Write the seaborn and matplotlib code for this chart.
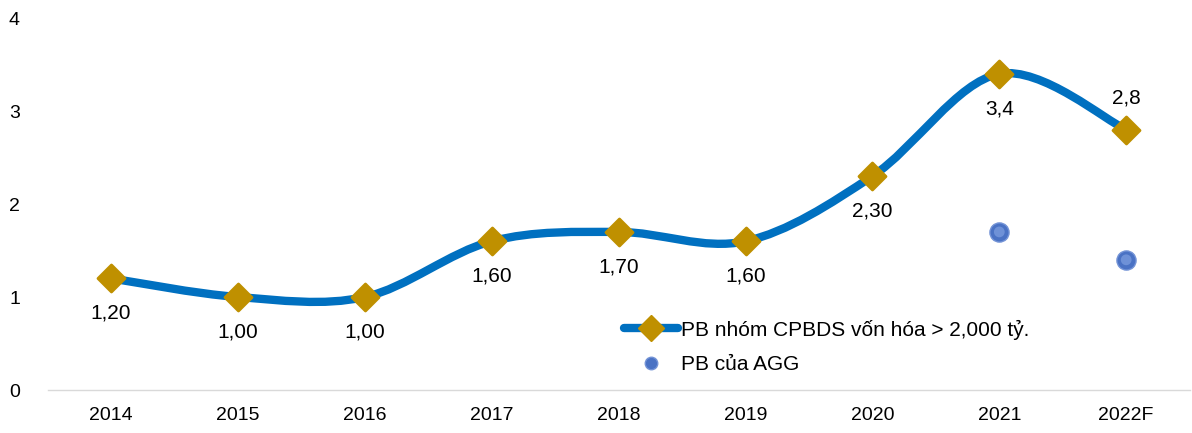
import numpy as np
import pandas as pd
import seaborn as sns
import matplotlib.pyplot as plt
from matplotlib.path import Path
from matplotlib.patches import PathPatch
from matplotlib.lines import Line2D

years = ["2014", "2015", "2016", "2017", "2018", "2019", "2020", "2021", "2022F"]
pb_group = [1.2, 1.0, 1.0, 1.6, 1.7, 1.6, 2.3, 3.4, 2.8]
pb_labels = ["1,20", "1,00", "1,00", "1,60", "1,70", "1,60", "2,30", "3,4", "2,8"]
agg_years = ["2021", "2022F"]
agg_pb = [1.7, 1.4]

sns.set_theme(style="white")
plt.rcParams["font.family"] = ["Liberation Sans", "DejaVu Sans"]

blue = "#0070C0"
gold = "#BF9000"

df = pd.DataFrame({"year": years, "x": np.arange(len(years)), "pb": pb_group})
df_agg = pd.DataFrame({"x": [years.index(y) for y in agg_years], "pb": agg_pb})

fig = plt.figure(figsize=(11.92, 4.33), dpi=100)
ax = fig.add_axes([0.040, 0.0993, 0.958, 0.859])

# smoothed line (Excel style) as bezier through the points
pts = df[["x", "pb"]].to_numpy(dtype=float)
verts = [pts[0]]
codes = [Path.MOVETO]
n = len(pts)
for i in range(n - 1):
    p0 = pts[max(i - 1, 0)]
    p1 = pts[i]
    p2 = pts[i + 1]
    p3 = pts[min(i + 2, n - 1)]
    c1 = p1 + (p2 - p0) / 6
    c2 = p2 - (p3 - p1) / 6
    verts += [c1, c2, p2]
    codes += [Path.CURVE4] * 3
ax.add_patch(PathPatch(Path(verts, codes), facecolor="none", edgecolor=blue,
                       lw=6, capstyle="round", zorder=2))

sns.scatterplot(data=df, x="x", y="pb", marker="D", s=190, color=gold,
                edgecolor=gold, linewidth=2, zorder=3, ax=ax, legend=False)
sns.scatterplot(data=df_agg, x="x", y="pb", marker="o", s=190, color="#4A72C4",
                edgecolor="#7393D6", linewidth=1, zorder=3, ax=ax, legend=False)
ax.scatter(df_agg["x"], df_agg["pb"], s=60, color="#7E9FE0",
           edgecolor="none", alpha=0.7, zorder=4)

for i, (xv, yv, lab) in enumerate(zip(df["x"], df["pb"], pb_labels)):
    dy = 23 if years[i] == "2022F" else -25
    ax.annotate(lab, (xv, yv), xytext=(0, dy), textcoords="offset points",
                ha="center", va="center", fontsize=15, color="black")

ax.set_xlim(-0.5, 8.5)
ax.set_ylim(0, 4)
ax.set_xticks(df["x"])
ax.set_xticklabels(years)
ax.set_yticks([0, 1, 2, 3, 4])
ax.set_xlabel("")
ax.set_ylabel("")
ax.tick_params(axis="x", labelsize=14, pad=12, length=0, labelcolor="black")
ax.tick_params(axis="y", labelsize=14, pad=20, length=0, labelcolor="black")
for side in ["top", "right", "left"]:
    ax.spines[side].set_visible(False)
ax.spines["bottom"].set_color("#D9D9D9")
ax.spines["bottom"].set_linewidth(1)

handles = [
    Line2D([0], [0], color=blue, lw=6, marker="D", markersize=13,
           markerfacecolor=gold, markeredgecolor=gold, solid_capstyle="round"),
    Line2D([0], [0], color="none", marker="o", markersize=9,
           markerfacecolor="#4A72C4", markeredgecolor="#7393D6"),
]
ax.legend(handles, ["PB nhóm CPBDS vốn hóa > 2,000 tỷ.", "PB của AGG"],
          loc="upper left", bbox_to_anchor=(0.508, 0.305),
          bbox_transform=fig.transFigure, frameon=False, fontsize=15,
          handlelength=2.6, handletextpad=0.1, labelspacing=0.75,
          labelcolor="black")

fig.savefig("out.png", dpi=100)
